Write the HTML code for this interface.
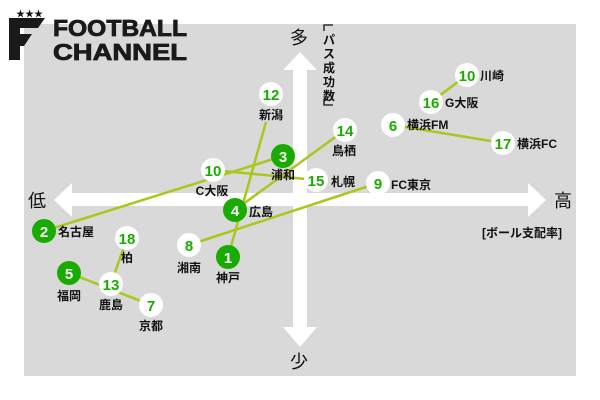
<!DOCTYPE html>
<html><head><meta charset="utf-8"><style>
html,body{margin:0;padding:0;background:#fff;width:600px;height:400px;overflow:hidden}
svg text{font-family:"Liberation Sans","Noto Sans CJK JP",sans-serif}
</style></head><body>
<svg width="600" height="400" viewBox="0 0 600 400" xmlns="http://www.w3.org/2000/svg">
<rect x="24" y="24" width="552" height="352" fill="#d9d9d9"/>
<g fill="#fff">
<rect x="293" y="66" width="14" height="264"/>
<polygon points="300,52 317,70 283,70"/>
<polygon points="300,347 317,327 283,327"/>
<rect x="68" y="193" width="464" height="13"/>
<polygon points="54,200 72,183 72,217"/>
<polygon points="546,200 528,183 528,217"/>
</g>
<rect x="6" y="8" width="186" height="16" fill="#fff"/>
<text x="16" y="17" font-size="9" fill="#111">★★★</text>
<polygon points="9,18 45,18 38,28 20,28 20,34 32,34 24,46 20,46 20,60 9,60" fill="#1a1a1a"/>
<g stroke="#1a1a1a" stroke-width="0.8">
<text x="53" y="36" font-size="23" font-weight="bold" fill="#1a1a1a" textLength="134" lengthAdjust="spacingAndGlyphs">FOOTBALL</text>
<text x="53" y="60" font-size="23" font-weight="bold" fill="#1a1a1a" textLength="134" lengthAdjust="spacingAndGlyphs">CHANNEL</text>
</g>
<g font-size="18" fill="#111" text-anchor="middle">
<text x="299" y="44">多</text>
<text x="299" y="368">少</text>
<text x="37" y="207">低</text>
<text x="563" y="207">高</text>
</g>
<path d="M333,25 H324 V31 M324,99 V105 H333" stroke="#111" stroke-width="1.3" fill="none"/>
<g font-size="12" font-weight="bold" fill="#111" text-anchor="middle">
<text x="329" y="44">パ</text>
<text x="329" y="58">ス</text>
<text x="329" y="72">成</text>
<text x="329" y="86">功</text>
<text x="329" y="100">数</text>
<text x="522" y="237">[ボール支配率]</text>
</g>
<g stroke="#a8c81e" stroke-width="2.5" fill="none">
<line x1="266" y1="122" x2="228" y2="257"/>
<line x1="44" y1="231" x2="283" y2="156"/>
<line x1="213" y1="170" x2="316" y2="180"/>
<line x1="235" y1="210" x2="345" y2="130"/>
<line x1="189" y1="245" x2="378" y2="183"/>
<line x1="467" y1="75" x2="431" y2="102"/>
<line x1="393" y1="125" x2="503" y2="143"/>
<line x1="127" y1="238" x2="111" y2="284"/>
<line x1="69" y1="273" x2="151" y2="305"/>
</g>
<g font-size="15" font-weight="bold" text-anchor="middle">
<g fill="#fff"><circle cx="271" cy="94" r="12"/><circle cx="213" cy="170" r="12"/><circle cx="189" cy="245" r="12"/><circle cx="345" cy="130" r="12"/><circle cx="316" cy="180" r="12"/><circle cx="378" cy="183" r="12"/><circle cx="467" cy="75" r="12"/><circle cx="431" cy="102" r="12"/><circle cx="393" cy="125" r="12"/><circle cx="503" cy="143" r="12"/><circle cx="127" cy="238" r="12"/><circle cx="111" cy="284" r="12"/><circle cx="151" cy="305" r="12"/></g>
<g fill="#1aab00"><circle cx="283" cy="156" r="12"/><circle cx="235" cy="210" r="12"/><circle cx="228" cy="257" r="12"/><circle cx="44" cy="231" r="12"/><circle cx="69" cy="273" r="12"/></g>
<g fill="#1aab00"><text x="271" y="100">12</text><text x="213" y="176">10</text><text x="189" y="251">8</text><text x="345" y="136">14</text><text x="316" y="186">15</text><text x="378" y="189">9</text><text x="467" y="81">10</text><text x="431" y="108">16</text><text x="393" y="131">6</text><text x="503" y="149">17</text><text x="127" y="244">18</text><text x="111" y="290">13</text><text x="151" y="311">7</text></g>
<g fill="#fff"><text x="283" y="162">3</text><text x="235" y="216">4</text><text x="228" y="263">1</text><text x="44" y="237">2</text><text x="69" y="279">5</text></g>
</g>
<g font-size="12" font-weight="bold" fill="#111" text-anchor="middle">
<text x="271" y="119">新潟</text><text x="283" y="179">浦和</text><text x="212" y="195">C大阪</text><text x="189" y="272">湘南</text><text x="228" y="282">神戸</text><text x="344" y="155">鳥栖</text><text x="127" y="262">柏</text><text x="69" y="300">福岡</text><text x="111" y="309">鹿島</text><text x="151" y="330">京都</text>
</g>
<g font-size="12" font-weight="bold" fill="#111">
<text x="249" y="216">広島</text><text x="331" y="186">札幌</text><text x="391" y="189">FC東京</text><text x="480" y="80">川崎</text><text x="445" y="107">G大阪</text><text x="407" y="129">横浜FM</text><text x="517" y="148">横浜FC</text><text x="58" y="236">名古屋</text>
</g>
</svg>
</body></html>
